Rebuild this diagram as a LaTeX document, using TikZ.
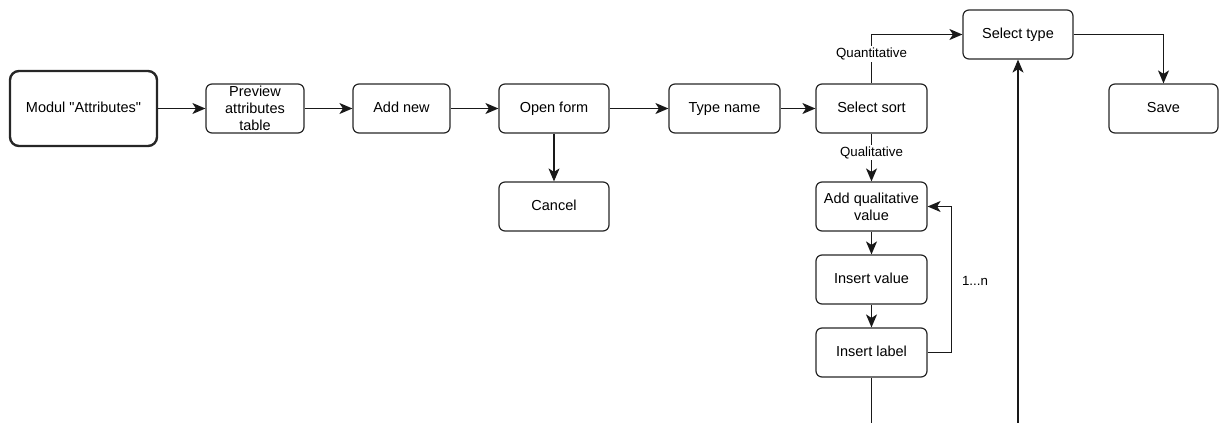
\documentclass[tikz,border=0pt]{standalone}
\usepackage{fontspec}
\setmainfont{Liberation Sans}
\usetikzlibrary{arrows.meta}
\begin{document}
\begin{tikzpicture}[x=1pt,y=-1pt,
  box/.style={draw=black!85, line width=1.2pt, rounded corners=6pt, minimum height=49pt, inner sep=1pt,
    align=center, font=\fontsize{14.5}{17}\selectfont},
  single/.style={text height=10.5pt, text depth=2pt},
  bigbox/.style={box, line width=2.4pt, rounded corners=9pt},
  conn/.style={draw=black!90, line width=1.2pt},
  arr/.style={conn, -{Stealth[length=13pt,width=11pt,inset=3.5pt]}},
  elabel/.style={fill=white, inner sep=1.5pt, font=\fontsize{13.3}{15}\selectfont}]
\useasboundingbox (0,0) rectangle (1219,423);
\node[bigbox, single, minimum width=147pt, minimum height=75pt] (modul) at (83.5,108.5) {Modul \textquotedbl Attributes\textquotedbl};
\node[box, minimum width=98pt] (preview) at (255,108.5) {Preview\\attributes\\table};
\node[box, single, minimum width=97pt] (addnew) at (401.5,108.5) {Add new};
\node[box, single, minimum width=110pt] (openform) at (554,108.5) {Open form};
\node[box, single, minimum width=110pt] (cancel) at (554,206.5) {Cancel};
\node[box, single, minimum width=111pt] (typename) at (724.5,108.5) {Type name};
\node[box, single, minimum width=111pt] (selectsort) at (871.5,108.5) {Select sort};
\node[box, single, minimum width=110pt] (selecttype) at (1018,34.5) {Select type};
\node[box, single, minimum width=109pt] (save) at (1163.5,108.5) {Save};
\node[box, minimum width=111pt] (addqual) at (871.5,206.5) {Add qualitative\\value};
\node[box, single, minimum width=111pt] (insval) at (871.5,279.5) {Insert value};
\node[box, single, minimum width=111pt] (inslabel) at (871.5,352.5) {Insert label};
\coordinate (lblend) at (871.5,423);
\coordinate (typestart) at (1018,423);

\draw[arr] (modul) -- (preview);
\draw[arr] (preview) -- (addnew);
\draw[arr] (addnew) -- (openform);
\draw[arr] (openform) -- (typename);
\draw[arr] (openform) -- (cancel);
\draw[arr] (typename) -- (selectsort);
\draw[arr] (selectsort.north) |- node[elabel, pos=0.3] (quant) {Quantitative} (selecttype.west);
\draw[arr] (selectsort) -- node[elabel, pos=0.4] (qual) {Qualitative} (addqual);
\draw[arr] (addqual) -- (insval);
\draw[arr] (insval) -- (inslabel);
\draw[arr] (inslabel.east) -- ++(24,0) |- (addqual.east);
\node[font=\fontsize{13.3}{15}\selectfont] (loop) at (975,281) {1...n};
\draw[arr] (selecttype.east) -| (save.north);
\draw[conn] (inslabel) -- (lblend);
\draw[arr] (typestart) -- (selecttype);
\end{tikzpicture}
\end{document}
